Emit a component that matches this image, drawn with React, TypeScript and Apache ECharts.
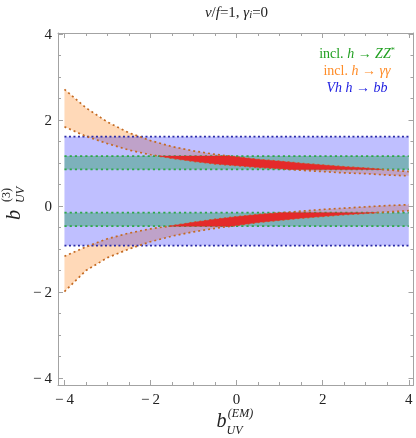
import React, { useEffect, useRef } from "react";
import * as echarts from "echarts";

// ---- data ----
const xSamples = [-4, -3.5, -3, -2.5, -2, -1.5, -1, -0.5, 0, 0.5, 1, 1.5, 2, 2.5, 3, 3.5, 4];
// incl. h -> gamma gamma : upper branch (upper / lower edge)
const aaUpperHi = [2.71, 2.28, 1.95, 1.7, 1.52, 1.38, 1.28, 1.2, 1.14, 1.08, 1.04, 0.99, 0.95, 0.91, 0.88, 0.84, 0.8];
const aaUpperLo = [1.84, 1.62, 1.45, 1.3, 1.19, 1.11, 1.04, 0.98, 0.94, 0.9, 0.87, 0.83, 0.8, 0.77, 0.75, 0.72, 0.7];
// incl. h -> gamma gamma : lower branch
const aaLowerHi = [-1.17, -0.95, -0.76, -0.63, -0.53, -0.46, -0.38, -0.31, -0.25, -0.2, -0.16, -0.12, -0.08, -0.05, -0.02, 0.01, 0.03];
const aaLowerLo = [-1.99, -1.5, -1.2, -1.0, -0.83, -0.7, -0.6, -0.52, -0.45, -0.38, -0.33, -0.28, -0.24, -0.2, -0.17, -0.14, -0.11];
// incl. h -> ZZ* bands [lo, hi]
const zzUpper = [0.85, 1.16];
const zzLower = [-0.47, -0.155];
// Vh h -> bb band [lo, hi]
const bbBand = [-0.92, 1.61];
const xEnds = [-4, 4];

const majorTicks = [-4, -2, 0, 2, 4];
const minorTicks = [-3.5, -3, -2.5, -1.5, -1, -0.5, 0.5, 1, 1.5, 2.5, 3, 3.5];

const titleText = "{i|v}{n|/}{i|f}{n|=1, }{i|γ}{s|i}{n|=0}";
const legendTexts = [
  "{n|incl. }{i|h}{n| → }{i|ZZ}{p|*}",
  "{n|incl. }{i|h}{n| → }{i|γγ}",
  "{i|Vh h}{n| → }{i|bb}",
];

// ---- styles ----
const SERIF = "'Liberation Serif', 'DejaVu Serif', serif";
const FRAME = "#a3a3a3";
const C_BLUE_FILL = "rgba(0,0,255,0.25)";
const C_BLUE_LINE = "#2b2ba8";
const C_GREEN_FILL = "rgba(0,150,60,0.35)";
const C_GREEN_LINE = "#2ea84a";
const C_ORANGE_FILL = "rgba(255,140,40,0.33)";
const C_ORANGE_LINE = "#c46a22";
const C_RED = "#e42a2a";
const legendColors = ["#22a022", "#ff8c28", "#2020e0"];

function richFor(color: string, size: number) {
  return {
    n: { fontFamily: SERIF, fontSize: size, fill: color, color },
    i: { fontFamily: SERIF, fontSize: size, fontStyle: "italic", fill: color, color },
    s: { fontFamily: SERIF, fontSize: size * 0.7, fontStyle: "italic", fill: color, color, verticalAlign: "bottom" },
    p: { fontFamily: SERIF, fontSize: size * 0.6, fontStyle: "normal", fill: color, color, verticalAlign: "top" },
  };
}

function constArr(v: number, n: number) {
  const a: number[] = [];
  for (let i = 0; i < n; i++) a.push(v);
  return a;
}

type Mode = "fill" | "edge";

function bandSeries(xs: number[], hi: number[], lo: number[], mode: Mode, color: string, dash: number[], width = 1.6) {
  return {
    type: "custom",
    clip: false,
    silent: true,
    data: [[xs[0], lo[0]]],
    renderItem: (_p: any, api: any) => {
      const top = xs.map((x, i) => api.coord([x, hi[i]]));
      const bot = xs.map((x, i) => api.coord([x, lo[i]]));
      if (mode === "fill") {
        return {
          type: "polygon",
          shape: { points: top.concat(bot.slice().reverse()) },
          style: { fill: color, stroke: null },
        };
      }
      return {
        type: "group",
        children: [
          { type: "polyline", shape: { points: top }, style: { fill: null, stroke: color, lineWidth: width, lineDash: dash } },
          { type: "polyline", shape: { points: bot }, style: { fill: null, stroke: color, lineWidth: width, lineDash: dash } },
        ],
      };
    },
  };
}

function overlapSeries(xs: number[], oHi: number[], oLo: number[], g: number[]) {
  return {
    type: "custom",
    clip: false,
    silent: true,
    data: [[xs[0], g[0]]],
    renderItem: (_p: any, api: any) => {
      const top: number[][] = [];
      const bot: number[][] = [];
      const steps = 40;
      for (let i = 0; i < xs.length - 1; i++) {
        for (let k = 0; k <= steps; k++) {
          if (k === steps && i < xs.length - 2) continue;
          const t = k / steps;
          const x = xs[i] + (xs[i + 1] - xs[i]) * t;
          const u = oHi[i] + (oHi[i + 1] - oHi[i]) * t;
          const l = oLo[i] + (oLo[i + 1] - oLo[i]) * t;
          const h = Math.min(u, g[1]);
          const b = Math.max(l, g[0]);
          if (h > b) {
            top.push(api.coord([x, h]));
            bot.push(api.coord([x, b]));
          }
        }
      }
      if (!top.length) return null;
      return {
        type: "polygon",
        shape: { points: top.concat(bot.reverse()) },
        style: { fill: C_RED, stroke: C_RED, lineWidth: 0.5 },
      };
    },
  };
}

const X_MIN = -4.15, X_MAX = 4.11, Y_MIN = -4.16, Y_MAX = 4.02;
const labelFmt = (v: number) => (v < 0 ? "\u2212\u2009" + Math.abs(v) : String(v));

function axisPair(kind: "x" | "y", pos: string, withLabels: boolean) {
  const base: any = {
    type: "value",
    min: kind === "x" ? X_MIN : Y_MIN,
    max: kind === "x" ? X_MAX : Y_MAX,
    position: pos,
    splitLine: { show: false },
  };
  const major = {
    ...base,
    axisLine: { show: true, onZero: false, lineStyle: { color: FRAME, width: 1 } },
    axisTick: { show: true, inside: true, length: 5, customValues: majorTicks, lineStyle: { color: FRAME } },
    axisLabel: withLabels
      ? { show: true, customValues: majorTicks, formatter: labelFmt, color: "#222", fontFamily: SERIF, fontSize: 15, margin: 6 }
      : { show: false },
  };
  const minor = {
    ...base,
    axisLine: { show: false, onZero: false },
    axisTick: { show: true, inside: true, length: 3, customValues: minorTicks, lineStyle: { color: FRAME } },
    axisLabel: { show: false },
  };
  return [major, minor];
}

const txt = (text: string, x: number, y: number, size: number, italic: boolean, rot = 0) => ({
  type: "text",
  x,
  y,
  rotation: rot,
  style: { text, align: "center", verticalAlign: "middle", fontFamily: SERIF, fontStyle: italic ? "italic" : "normal", fontSize: size, fill: "#222" },
});

const n = 2;
const option: any = {
  animation: false,
  grid: { left: 58, right: 2.5, top: 33, bottom: 53, containLabel: false },
  xAxis: [...axisPair("x", "bottom", true), ...axisPair("x", "top", false)],
  yAxis: [...axisPair("y", "left", true), ...axisPair("y", "right", false)],
  series: [
    bandSeries(xSamples, aaUpperHi, aaUpperLo, "fill", C_ORANGE_FILL, []),
    bandSeries(xSamples, aaLowerHi, aaLowerLo, "fill", C_ORANGE_FILL, []),
    bandSeries(xEnds, constArr(bbBand[1], n), constArr(bbBand[0], n), "fill", C_BLUE_FILL, []),
    bandSeries(xEnds, constArr(zzUpper[1], n), constArr(zzUpper[0], n), "fill", C_GREEN_FILL, []),
    bandSeries(xEnds, constArr(zzLower[1], n), constArr(zzLower[0], n), "fill", C_GREEN_FILL, []),
    bandSeries(xEnds, constArr(bbBand[1], n), constArr(bbBand[0], n), "edge", C_BLUE_LINE, [2, 2.5], 1.8),
    bandSeries(xEnds, constArr(zzUpper[1], n), constArr(zzUpper[0], n), "edge", C_GREEN_LINE, [2.2, 3], 1.8),
    bandSeries(xEnds, constArr(zzLower[1], n), constArr(zzLower[0], n), "edge", C_GREEN_LINE, [2.2, 3], 1.8),
    bandSeries(xSamples, aaUpperHi, aaUpperLo, "edge", C_ORANGE_LINE, [2, 3], 1.7),
    bandSeries(xSamples, aaLowerHi, aaLowerLo, "edge", C_ORANGE_LINE, [2, 3], 1.7),
    overlapSeries(xSamples, aaUpperHi, aaUpperLo, zzUpper),
    overlapSeries(xSamples, aaLowerHi, aaLowerLo, zzLower),
  ],
  graphic: [
    {
      type: "text",
      x: 236.5,
      y: 12,
      style: { text: titleText, rich: richFor("#222", 15), align: "center", verticalAlign: "middle", fontFamily: SERIF, fontSize: 15, fill: "#222" },
    },
    ...legendTexts.map((t, i) => ({
      type: "text",
      x: 357,
      y: 53 + i * 17,
      z: 100,
      style: { text: t, rich: richFor(legendColors[i], 14), align: "center", verticalAlign: "middle", fontFamily: SERIF, fontSize: 14, fill: legendColors[i] },
    })),
    // x axis name: b_UV^(EM)
    txt("b", 221.5, 420, 20, true),
    txt("(EM)", 240.5, 413, 12, true),
    txt("UV", 234.5, 430, 12, true),
    // y axis name: b_UV^(3), rotated
    txt("b", 13, 215, 20, true, Math.PI / 2),
    txt("(3)", 6, 195, 12, false, Math.PI / 2),
    txt("UV", 20, 195, 12, true, Math.PI / 2),
  ],
};

export default function App() {
  const ref = useRef<HTMLDivElement>(null);
  useEffect(() => {
    if (!ref.current) return;
    const chart = echarts.init(ref.current, null, { renderer: "svg" });
    chart.setOption(option);
    return () => chart.dispose();
  }, []);
  return <div ref={ref} style={{ position: "fixed", left: 0, top: 0, width: 416, height: 438 }} />;
}
